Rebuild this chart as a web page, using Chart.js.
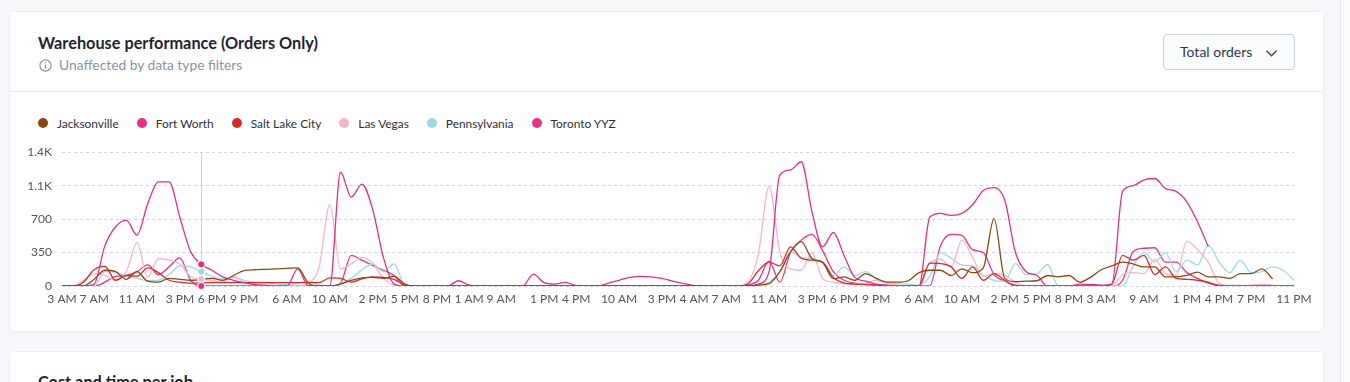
<!DOCTYPE html>
<html>
<head>
<meta charset="utf-8">
<script src="https://cdn.jsdelivr.net/npm/chart.js@4"></script>
<style>
  html, body { margin: 0; padding: 0; }
  body { width: 1350px; height: 382px; overflow: hidden; background: #f6f7fa; position: relative; font-family: Lato, "Open Sans", sans-serif; }
  .card { position: absolute; left: 10px; width: 1313px; background: #fff; border-radius: 4px; box-shadow: 0 0 0 1px #eceef3; }
  #card1 { top: 12px; height: 319px; }
  #card2 { top: 352px; height: 80px; }
  .title { position: absolute; left: 38px; font-weight: 700; font-size: 16.3px; color: #1c2433; white-space: nowrap; }
  #t1 { top: 33px; }
  #t2 { top: 372px; }
  #sub { position: absolute; left: 59px; top: 56px; font-size: 13.8px; color: #8b93a4; white-space: nowrap; }
  #info { position: absolute; left: 39px; top: 59px; }
  #divider { position: absolute; left: 10px; top: 91px; width: 1313px; height: 1px; background: #e9ebf1; }
  #dd { position: absolute; left: 1163px; top: 34px; width: 130px; height: 34px; border: 1px solid #c8cfdf; border-radius: 4px; background: #fbfcfe; box-sizing: content-box; }
  #dd span { position: absolute; left: 16px; top: 8px; font-size: 14px; color: #2c394c; white-space: nowrap; }
  #dd svg { position: absolute; left: 102px; top: 15px; }
  #legend { position: absolute; left: 38px; top: 115px; display: flex; align-items: center; height: 16px; }
  .li { display: flex; align-items: center; margin-right: 18px; font-size: 11.9px; color: #2b2f38; white-space: nowrap; }
  .dot { width: 10px; height: 10px; border-radius: 50%; margin-right: 9px; }
  #rightstrip { position: absolute; left: 1340px; top: 0; width: 10px; height: 382px; background: #fbfbfd; border-left: 1px solid #e6e8ee; }
  #chartBox { position: absolute; left: 20px; top: 135px; width: 1300px; height: 175px; }
  #chartBox canvas { display: block; }
</style>
</head>
<body>
<div class="card" id="card1"></div>
<div class="card" id="card2"></div>
<div id="rightstrip"></div>
<div class="title" id="t1">Warehouse performance (Orders Only)</div>
<svg id="info" width="13" height="13" viewBox="0 0 13 13"><circle cx="6.5" cy="6.5" r="5.6" fill="none" stroke="#8b93a4" stroke-width="1.2"/><line x1="6.5" y1="5.6" x2="6.5" y2="9.6" stroke="#8b93a4" stroke-width="1.3"/><circle cx="6.5" cy="3.7" r="0.8" fill="#8b93a4"/></svg>
<div id="sub">Unaffected by data type filters</div>
<div id="divider"></div>
<div id="dd"><span>Total orders</span><svg width="11" height="7" viewBox="0 0 11 7"><polyline points="0.5,0.8 5.5,5.8 10.5,0.8" fill="none" stroke="#3a4556" stroke-width="1.3"/></svg></div>
<div id="legend"></div>
<div class="title" id="t2">Cost and time per job</div>
<div id="chartBox"><canvas id="c" width="1300" height="175"></canvas></div>
<script>
const categories = [
  '3 AM','5 AM','6 AM','7 AM','8 AM','9 AM','10 AM','11 AM','12 PM','1 PM',
  '2 PM','3 PM','4 PM','5 PM','6 PM','7 PM','8 PM','9 PM','10 PM','11 PM',
  '5 AM','6 AM','7 AM','8 AM','9 AM','10 AM','11 AM','12 PM','1 PM','2 PM',
  '3 PM','4 PM','5 PM','6 PM','7 PM','8 PM','9 PM','11 PM','1 AM','5 AM',
  '7 AM','9 AM','10 AM','11 AM','12 PM','1 PM','2 PM','3 PM','4 PM','6 PM',
  '10 PM','6 AM','10 AM','11 AM','12 PM','2 PM','3 PM','6 PM','11 PM','4 AM',
  '5 AM','6 AM','7 AM','8 AM','9 AM','10 AM','11 AM','12 PM','1 PM','2 PM',
  '3 PM','4 PM','5 PM','6 PM','7 PM','8 PM','9 PM','10 PM','11 PM','5 AM',
  '6 AM','7 AM','8 AM','9 AM','10 AM','11 AM','12 PM','1 PM','2 PM','3 PM',
  '4 PM','5 PM','6 PM','7 PM','8 PM','9 PM','11 PM','3 AM','5 AM','6 AM',
  '8 AM','9 AM','10 AM','11 AM','12 PM','1 PM','2 PM','3 PM','4 PM','5 PM',
  '6 PM','7 PM','8 PM','9 PM','10 PM','11 PM'
];
const shownTickIndex = [0,3,7,11,14,17,21,25,29,32,35,38,41,45,48,52,56,59,62,66,70,73,76,80,84,88,91,94,97,101,105,108,111,115];
const yTickValues = [0, 350, 700, 1050, 1400];

const seriesNames = ['Jacksonville','Fort Worth','Salt Lake City','Las Vegas','Pennsylvania','Toronto YYZ'];
const seriesColors = ['#8a4a0e','#e62e85','#d62b2b','#f5b4d0','#9dd9e4','#e8328a'];

const jacksonville = [
  0,0,0,70,165,150,70,150,50,40, 80,70,60,null,80,60,110,160,170,175,
  180,185,190,30,0,0,20,60,85,90, 80,100,20,0,0,0,0,0,0,0,
  0,0,0,0,0,0,0,0,0,0, 0,0,0,0,0,0,0,0,0,0,
  0,0,0,0,0,10,25,147,357,465, 287,245,77,95,60,130,80,40,40,55,
  140,165,165,110,180,140,190,705,80,45, 50,55,110,95,110,40,90,170,210,250,
  230,200,200,95,95,110,145,95,95,80, 130,130,180,75,null,null
];
const fortWorth = [
  0,0,0,20,420,620,690,532,860,1090, 1090,720,360,227,165,95,60,35,14,7,
  0,0,180,0,0,0,1190,930,1065,800, 300,20,0,0,0,0,0,55,10,0,
  0,0,0,0,125,35,20,38,5,0, 0,30,60,90,100,95,80,50,25,5,
  0,0,0,0,0,20,150,1160,1215,1300, 780,410,560,320,90,50,20,10,0,0,
  0,720,760,740,760,850,1000,1030,900,350, 150,110,0,0,0,20,15,10,20,990,
  1050,1110,1125,1020,990,880,670,410,null,null, null,null,null,null,null,null
];
const saltLakeCity = [
  0,0,40,170,205,60,110,100,190,140, 60,40,30,null,35,35,35,35,35,35,
  35,35,35,35,35,85,80,40,75,95, 90,70,10,0,0,0,0,0,0,0,
  0,0,0,0,0,0,0,0,0,0, 0,0,0,0,0,0,0,0,0,0,
  0,0,0,0,20,160,250,210,410,290, 270,250,90,30,20,15,10,5,0,0,
  0,240,235,200,80,200,60,130,60,0, 0,0,0,0,0,0,0,0,20,320,
  270,320,120,200,80,70,60,40,0,0, 0,0,0,0,0,0
];
const lasVegas = [
  0,0,60,130,110,60,150,450,90,285, 270,230,100,73,60,40,100,40,20,10,
  5,0,0,30,200,850,180,230,300,240, 80,10,0,0,0,0,0,0,0,0,
  0,0,0,0,0,0,0,0,0,0, 0,0,0,0,0,0,0,0,0,0,
  0,0,0,0,40,330,1045,360,180,165, 350,77,40,25,20,30,60,30,10,0,
  0,240,280,200,480,300,100,130,110,40, 0,0,0,0,0,0,0,0,0,120,
  140,130,280,130,110,470,380,250,30,5, 5,10,20,10,0,0
];
const pennsylvania = [
  0,0,0,0,150,145,100,80,55,60, 120,210,200,150,100,75,90,60,40,35,
  20,15,30,50,10,0,20,80,170,230, 150,230,10,0,0,0,0,0,0,0,
  0,0,0,0,0,0,0,0,0,0, 0,0,0,0,0,0,0,0,0,0,
  0,0,0,0,0,10,40,150,360,300, 287,250,110,200,110,150,80,40,25,20,
  10,100,350,290,220,210,110,60,50,235, 120,130,225,0,0,0,0,0,0,0,
  210,350,250,350,150,270,220,430,250,140, 270,140,150,200,165,60
];
const torontoYYZ = [
  0,0,0,0,40,100,110,150,220,120, 200,295,60,0,0,0,0,0,0,0,
  0,0,0,0,0,0,30,320,270,215, 165,110,0,0,0,0,0,0,0,0,
  0,0,0,0,0,0,0,0,0,0, 0,0,0,0,0,0,0,0,0,0,
  0,0,0,0,10,60,260,40,350,480, 540,370,150,60,30,20,10,0,0,0,
  0,0,420,540,530,380,350,120,50,10, 0,0,0,0,0,0,0,0,0,60,
  360,395,400,250,250,140,80,30,10,0, 0,0,0,0,0,0
];
const hoverIndex = 13;

const seriesData = [jacksonville, fortWorth, saltLakeCity, lasVegas, pennsylvania, torontoYYZ];

// HTML legend
const legendEl = document.getElementById('legend');
seriesNames.forEach((n, i) => {
  const it = document.createElement('div');
  it.className = 'li';
  it.innerHTML = '<span class="dot" style="background:' + seriesColors[i] + '"></span>' + n;
  legendEl.appendChild(it);
});

const hoverPlugin = {
  id: 'hoverMarks',
  beforeDatasetsDraw(chart) {
    const ctx = chart.ctx, a = chart.chartArea;
    const x = Math.round(chart.scales.x.getPixelForValue(hoverIndex)) + 0.5;
    ctx.save();
    ctx.strokeStyle = '#cfcfd3';
    ctx.lineWidth = 1;
    ctx.beginPath(); ctx.moveTo(x, a.top); ctx.lineTo(x, a.bottom); ctx.stroke();
    ctx.restore();
  },
  afterDatasetsDraw(chart) {
    const ctx = chart.ctx;
    const xs = chart.scales.x, ys = chart.scales.y;
    ctx.save();
    chart.data.datasets.forEach((ds) => {
      const v = ds.data[hoverIndex];
      if (v === null || v === undefined) return;
      ctx.beginPath();
      ctx.arc(xs.getPixelForValue(hoverIndex), ys.getPixelForValue(v), 3.6, 0, Math.PI * 2);
      ctx.fillStyle = ds.borderColor;
      ctx.strokeStyle = '#ffffff';
      ctx.lineWidth = 1;
      ctx.fill(); ctx.stroke();
    });
    ctx.restore();
  }
};

new Chart(document.getElementById('c'), {
  type: 'line',
  data: {
    labels: categories,
    datasets: seriesNames.map((n, i) => ({
      label: n,
      data: seriesData[i],
      borderColor: seriesColors[i],
      backgroundColor: seriesColors[i],
      borderWidth: 1.3,
      pointRadius: 0,
      pointHoverRadius: 0,
      cubicInterpolationMode: 'monotone',
      spanGaps: true,
      fill: false
    }))
  },
  options: {
    responsive: false,
    animation: false,
    events: [],
    layout: { padding: { left: 0, right: 26, top: 7, bottom: 0 } },
    plugins: { legend: { display: false }, tooltip: { enabled: false } },
    scales: {
      x: {
        type: 'category',
        offset: false,
        grid: { display: false, drawTicks: false },
        border: { display: false },
        ticks: {
          autoSkip: false, maxRotation: 0, minRotation: 0, padding: 6,
          color: '#4f5561', font: { family: 'Lato', size: 12 },
          callback: (v, i) => shownTickIndex.includes(i) ? categories[i] : ''
        },
        afterFit: (s) => { s.height = 24; }
      },
      y: {
        min: 0, max: 1400,
        grid: { color: '#d2d3d6', drawTicks: false, lineWidth: 1 },
        border: { display: false, dash: [3, 3] },
        afterBuildTicks: (s) => { s.ticks = yTickValues.map(v => ({ value: v })); },
        ticks: {
          padding: 10, color: '#4f5561', font: { family: 'Lato', size: 12 },
          callback: (v) => v >= 1000 ? (v / 1000).toFixed(1) + 'K' : String(v)
        },
        afterFit: (s) => { s.width = 42; }
      }
    }
  },
  plugins: [hoverPlugin]
});
</script>
</body>
</html>
